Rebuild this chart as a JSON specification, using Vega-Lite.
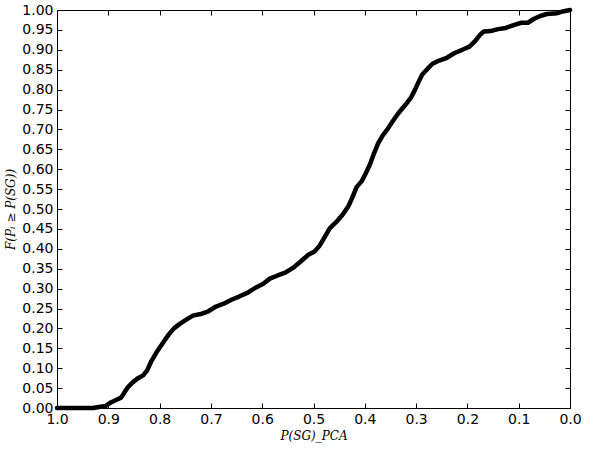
{
  "$schema": "https://vega.github.io/schema/vega-lite/v6.json",
  "width": 513,
  "height": 398,
  "autosize": "none",
  "padding": {"left": 57, "top": 10, "right": 28, "bottom": 44},
  "background": "white",
  "config": {
    "view": {"stroke": null},
    "axis": {
      "domainColor": "black",
      "domainWidth": 1,
      "tickColor": "black",
      "tickSize": -5,
      "grid": false,
      "labelFont": "DejaVu Sans",
      "labelFontSize": 14,
      "labelColor": "black",
      "titleFont": "DejaVu Serif",
      "titleFontSize": 12,
      "titleFontWeight": "normal",
      "titleColor": "black"
    }
  },
  "data": {
    "values": [
      {"p": 1.0, "f": 0.0},
      {"p": 0.93, "f": 0.0},
      {"p": 0.915, "f": 0.003},
      {"p": 0.905, "f": 0.005},
      {"p": 0.895, "f": 0.014},
      {"p": 0.885, "f": 0.02},
      {"p": 0.875, "f": 0.026},
      {"p": 0.868, "f": 0.04},
      {"p": 0.862, "f": 0.052},
      {"p": 0.852, "f": 0.065},
      {"p": 0.842, "f": 0.075},
      {"p": 0.832, "f": 0.082},
      {"p": 0.824, "f": 0.095},
      {"p": 0.816, "f": 0.118},
      {"p": 0.806, "f": 0.14},
      {"p": 0.798, "f": 0.155},
      {"p": 0.79, "f": 0.17},
      {"p": 0.782, "f": 0.185},
      {"p": 0.772, "f": 0.2},
      {"p": 0.76, "f": 0.212},
      {"p": 0.748, "f": 0.222},
      {"p": 0.735, "f": 0.232},
      {"p": 0.72, "f": 0.236},
      {"p": 0.705, "f": 0.243},
      {"p": 0.69, "f": 0.255},
      {"p": 0.675, "f": 0.262},
      {"p": 0.66, "f": 0.272},
      {"p": 0.645, "f": 0.28},
      {"p": 0.628, "f": 0.29},
      {"p": 0.612, "f": 0.303},
      {"p": 0.598, "f": 0.312},
      {"p": 0.585, "f": 0.325},
      {"p": 0.57, "f": 0.333},
      {"p": 0.555, "f": 0.34},
      {"p": 0.54, "f": 0.352},
      {"p": 0.525, "f": 0.368},
      {"p": 0.51, "f": 0.385},
      {"p": 0.498, "f": 0.393},
      {"p": 0.488, "f": 0.408},
      {"p": 0.478, "f": 0.43},
      {"p": 0.468, "f": 0.452},
      {"p": 0.455, "f": 0.468},
      {"p": 0.443, "f": 0.486},
      {"p": 0.432, "f": 0.507},
      {"p": 0.424, "f": 0.53},
      {"p": 0.416, "f": 0.555},
      {"p": 0.406, "f": 0.57},
      {"p": 0.398, "f": 0.59},
      {"p": 0.39, "f": 0.612},
      {"p": 0.382, "f": 0.64},
      {"p": 0.374, "f": 0.665},
      {"p": 0.365, "f": 0.685},
      {"p": 0.356, "f": 0.7},
      {"p": 0.346, "f": 0.72},
      {"p": 0.335, "f": 0.74},
      {"p": 0.322, "f": 0.76},
      {"p": 0.31, "f": 0.78},
      {"p": 0.302, "f": 0.8},
      {"p": 0.295, "f": 0.82},
      {"p": 0.288, "f": 0.838},
      {"p": 0.278, "f": 0.852},
      {"p": 0.268, "f": 0.865},
      {"p": 0.255, "f": 0.873},
      {"p": 0.24, "f": 0.88},
      {"p": 0.225, "f": 0.892},
      {"p": 0.21, "f": 0.9},
      {"p": 0.196, "f": 0.908},
      {"p": 0.185, "f": 0.922},
      {"p": 0.175, "f": 0.938},
      {"p": 0.168, "f": 0.946},
      {"p": 0.155, "f": 0.947},
      {"p": 0.14, "f": 0.952},
      {"p": 0.125, "f": 0.955},
      {"p": 0.11, "f": 0.962},
      {"p": 0.095, "f": 0.968},
      {"p": 0.082, "f": 0.968},
      {"p": 0.07, "f": 0.978},
      {"p": 0.058, "f": 0.985},
      {"p": 0.045, "f": 0.99},
      {"p": 0.025, "f": 0.992},
      {"p": 0.012, "f": 0.997},
      {"p": 0.0, "f": 1.0}
    ]
  },
  "layer": [
    {
      "mark": {"type": "line", "color": "black", "strokeWidth": 4.5, "strokeJoin": "round", "strokeCap": "round", "clip": false},
      "encoding": {
        "x": {
          "field": "p", "type": "quantitative",
          "scale": {"domain": [0, 1], "reverse": true, "nice": false},
          "axis": {"orient": "bottom", "values": [0, 0.1, 0.2, 0.3, 0.4, 0.5, 0.6, 0.7, 0.8, 0.9, 1.0], "format": ".1f", "labelPadding": 9, "title": "P(SG)_PCA", "titleFontStyle": "italic", "titlePadding": 4, "labelFlush": false}
        },
        "y": {
          "field": "f", "type": "quantitative",
          "scale": {"domain": [0, 1], "nice": false},
          "axis": {"orient": "left", "values": [0, 0.05, 0.1, 0.15, 0.2, 0.25, 0.3, 0.35, 0.4, 0.45, 0.5, 0.55, 0.6, 0.65, 0.7, 0.75, 0.8, 0.85, 0.9, 0.95, 1.0], "format": ".2f", "labelPadding": 9, "title": "F(Pᵢ ≥ P(SG))", "titleFontStyle": "italic", "titlePadding": 4, "labelFlush": false}
        }
      }
    },
    {
      "mark": {"type": "line", "opacity": 0},
      "encoding": {
        "x": {
          "field": "p", "type": "quantitative",
          "scale": {"domain": [0, 1], "reverse": true, "nice": false},
          "axis": {"orient": "top", "values": [0, 0.1, 0.2, 0.3, 0.4, 0.5, 0.6, 0.7, 0.8, 0.9, 1.0], "labels": false, "title": null}
        },
        "y": {
          "field": "f", "type": "quantitative",
          "scale": {"domain": [0, 1], "nice": false},
          "axis": {"orient": "right", "values": [0, 0.05, 0.1, 0.15, 0.2, 0.25, 0.3, 0.35, 0.4, 0.45, 0.5, 0.55, 0.6, 0.65, 0.7, 0.75, 0.8, 0.85, 0.9, 0.95, 1.0], "labels": false, "title": null}
        }
      }
    }
  ],
  "resolve": {"axis": {"x": "independent", "y": "independent"}}
}
